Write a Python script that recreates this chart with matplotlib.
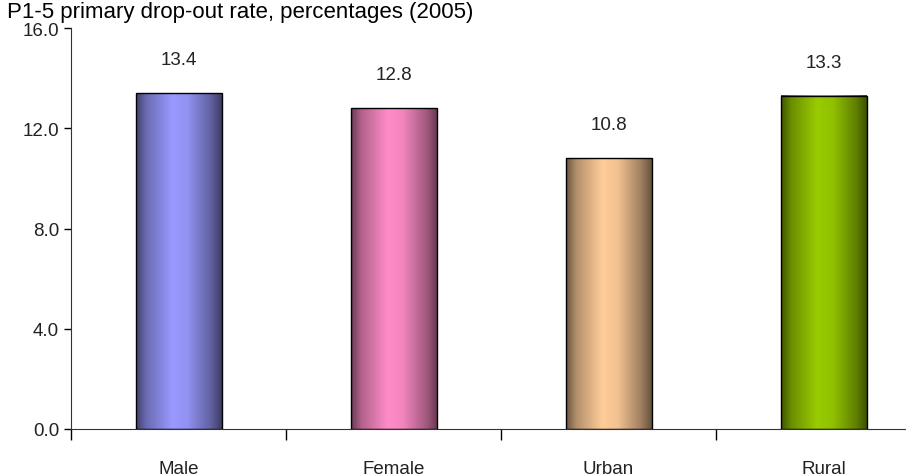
import numpy as np
import matplotlib.pyplot as plt
import matplotlib.colors as mcolors

plt.rcParams['font.family'] = ['Liberation Sans', 'DejaVu Sans']

categories = ['Male', 'Female', 'Urban', 'Rural']
rates = [13.4, 12.8, 10.8, 13.3]
bar_colors = ['#9999FF', '#FF8CC8', '#FFCC99', '#99CC00']
y_ticks = [0.0, 4.0, 8.0, 12.0, 16.0]
title = 'P1-5 primary drop-out rate, percentages (2005)'

fig = plt.figure(figsize=(9.06, 4.77), dpi=100)
# axes runs a little past the right edge, the last category slot is cut off
ax = fig.add_axes([71 / 906, 47 / 477, 860 / 906, 401 / 477])

x = np.arange(len(categories))
bars = ax.bar(x, rates, width=0.4, color='none', edgecolor='black', linewidth=1.0, zorder=3)

# shaded cylinder look: dark edges, light band left of centre
pos = np.linspace(0, 1, 200)
shade = np.interp(pos, [0, 0.12, 0.42, 0.6, 0.88, 1.0], [0.42, 0.7, 1.0, 0.95, 0.62, 0.4])
for bar, col in zip(bars, bar_colors):
    rgb = np.array(mcolors.to_rgb(col))
    img = (shade[:, None] * rgb[None, :])[None, :, :]
    x0, w, h = bar.get_x(), bar.get_width(), bar.get_height()
    ax.imshow(img, extent=[x0, x0 + w, 0, h], aspect='auto', zorder=2, interpolation='bilinear')
    ax.text(bar.get_x() + w / 2, h + 1.0, f'{h:.1f}', ha='center', va='bottom', fontsize=13.5, color='#222222')

ax.set_xlim(-0.5, 3.5)
ax.set_ylim(0, 16)
ax.set_yticks(y_ticks)
ax.set_yticklabels([f'{v:.1f}' for v in y_ticks], fontsize=13.5, color='#222222')
ax.set_xticks(x)
ax.set_xticklabels(categories, fontsize=13.5, color='#222222')
ax.tick_params(axis='x', length=0, pad=22)
ax.tick_params(axis='y', length=5, direction='out', width=1)
# category boundary ticks below the axis
ax.set_xticks(np.arange(-0.5, 4.0, 1.0), minor=True)
ax.tick_params(axis='x', which='minor', length=8, direction='out', width=1)

for side in ['top', 'right']:
    ax.spines[side].set_visible(False)
ax.spines['left'].set_color('#333333')
ax.spines['bottom'].set_color('#333333')

fig.text(0.008, 1.0 - 2 / 477, title, fontsize=16, ha='left', va='top', color='black')

fig.savefig('out.png', dpi=100)
